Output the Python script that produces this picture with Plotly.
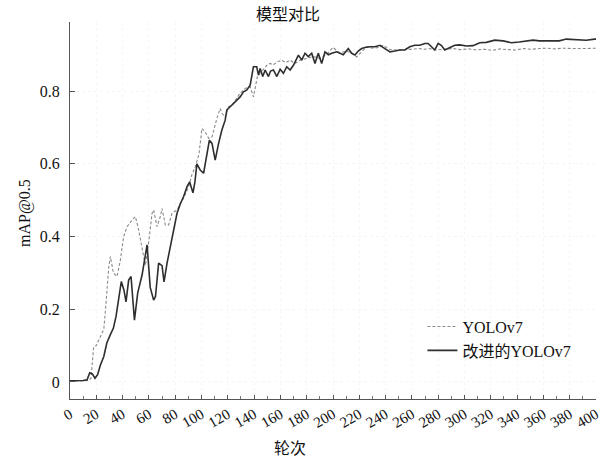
import plotly.graph_objects as go

# ---- data ----
epochs_v7 = [0, 5, 10, 14, 16, 17, 18, 20, 21.9, 24.4, 25.7, 27, 28.2, 29.5, 30.7, 32, 33, 35.8, 38.3,
             40.8, 43.4, 47.2, 49.7, 52.2, 54.8, 57.3, 59.8, 62.4, 63.6, 66.2, 68.7, 70, 72.5, 75, 77.6,
             81.4, 83.9, 86.4, 90.2, 92.7, 95.3, 98, 99.5, 100.3, 102.8, 105.4, 108, 110.4, 111.7, 114.2,
             115.5, 118, 120.5, 123.1, 125.6, 129.4, 133.2, 137, 139.5, 140.8, 142.5, 144.6, 149.7, 152.2,
             154.7, 157.3, 161, 164, 167.4, 171, 175, 180, 185, 190, 195, 200, 205, 210, 214, 218, 222,
             225.6, 230, 235, 238, 243, 248, 254.6, 260, 265, 270, 273.6, 278.7, 284, 291, 297, 303, 309,
             315, 321, 327, 333, 339, 345, 351, 357, 363, 369, 375, 381, 387, 393, 400]
map_v7 = [0.002, 0.002, 0.003, 0.004, 0.01, 0.06, 0.097, 0.1, 0.115, 0.13, 0.145, 0.198, 0.27, 0.317, 0.345,
          0.32, 0.3, 0.29, 0.335, 0.4, 0.427, 0.445, 0.455, 0.418, 0.363, 0.32, 0.382, 0.464, 0.473, 0.427,
          0.455, 0.477, 0.432, 0.432, 0.464, 0.473, 0.49, 0.505, 0.537, 0.57, 0.592, 0.625, 0.67, 0.697,
          0.688, 0.67, 0.674, 0.711, 0.725, 0.752, 0.739, 0.729, 0.757, 0.761, 0.775, 0.794, 0.807, 0.812,
          0.784, 0.812, 0.84, 0.849, 0.871, 0.876, 0.872, 0.88, 0.885, 0.878, 0.885, 0.876, 0.885, 0.89,
          0.895, 0.89, 0.9, 0.92, 0.905, 0.91, 0.905, 0.894, 0.91, 0.922, 0.918, 0.92, 0.926, 0.915, 0.913,
          0.913, 0.915, 0.917, 0.915, 0.917, 0.913, 0.915, 0.917, 0.914, 0.916, 0.913, 0.915, 0.912, 0.916,
          0.914, 0.913, 0.917, 0.915, 0.917, 0.918, 0.916, 0.918, 0.917, 0.918, 0.917, 0.918]

epochs_imp = [0, 5, 10, 13, 15, 17, 19, 21, 23, 25.7, 28, 30.7, 33, 35, 37, 39, 41, 42.6, 44.6, 46.4, 49,
              51.5, 54.8, 57, 58.6, 61, 63.6, 65, 67.4, 70, 71.5, 73.8, 76.3, 78.8, 81.4, 83.9, 86.4, 89,
              91, 93.5, 95, 96.5, 99, 101.6, 104, 106, 108, 110.4, 113, 115.5, 118, 119.3, 121.8, 124.3,
              126.9, 129.4, 131.9, 134.5, 137, 138.3, 139.5, 142, 143.3, 144.6, 146.6, 148.4, 150.9, 152.5,
              154.7, 157.3, 159.8, 162.3, 164.8, 167.4, 169.9, 173.7, 176.2, 178.7, 181.2, 183.8, 186.3,
              188.8, 191.4, 193.9, 196.5, 199, 202.8, 205.3, 207.8, 211.6, 214.2, 216.7, 219.2, 221.8, 224.3,
              228, 231.8, 235.7, 239.5, 243.3, 247, 250.8, 254.6, 258.4, 262.2, 266, 269.8, 272.3, 274.9,
              277.4, 280, 282.5, 285, 288.8, 292.6, 296.4, 301.5, 306.5, 311.6, 316.6, 323, 329.3, 335.6,
              341.6, 347, 352, 357, 362, 367.2, 372, 377.4, 382.5, 387.5, 392.6, 398.9, 400]
map_imp = [0.003, 0.003, 0.004, 0.006, 0.025, 0.022, 0.01, 0.02, 0.045, 0.07, 0.107, 0.13, 0.148, 0.18,
           0.225, 0.276, 0.253, 0.22, 0.28, 0.29, 0.17, 0.245, 0.294, 0.34, 0.377, 0.26, 0.225, 0.235, 0.327,
           0.32, 0.275, 0.327, 0.372, 0.41, 0.464, 0.49, 0.51, 0.537, 0.55, 0.52, 0.55, 0.6, 0.583, 0.574,
           0.62, 0.665, 0.656, 0.61, 0.656, 0.693, 0.72, 0.748, 0.757, 0.766, 0.775, 0.784, 0.798, 0.803,
           0.816, 0.849, 0.867, 0.867, 0.844, 0.862, 0.84, 0.858, 0.84, 0.855, 0.858, 0.84, 0.86, 0.849,
           0.867, 0.858, 0.871, 0.899, 0.885, 0.904, 0.895, 0.904, 0.876, 0.904, 0.876, 0.908, 0.9, 0.904,
           0.908, 0.904, 0.9, 0.917, 0.904, 0.899, 0.91, 0.917, 0.92, 0.922, 0.922, 0.926, 0.917, 0.908,
           0.91, 0.913, 0.913, 0.922, 0.926, 0.926, 0.931, 0.931, 0.922, 0.913, 0.931, 0.925, 0.913, 0.92,
           0.926, 0.927, 0.924, 0.925, 0.933, 0.934, 0.94, 0.938, 0.933, 0.935, 0.937, 0.94, 0.938, 0.938,
           0.936, 0.938, 0.943, 0.942, 0.94, 0.94, 0.943, 0.943]

series_names = ["YOLOv7", "改进的YOLOv7"]
x_ticks = list(range(0, 401, 20))
y_ticks = [0, 0.2, 0.4, 0.6, 0.8]
y_tick_text = ["0", "0.2", "0.4", "0.6", "0.8"]
title_text = "模型对比"
x_title = "轮次"
y_title = "mAP@0.5"

SERIF = "Liberation Serif, Noto Sans CJK SC, serif"
CJK = "Noto Sans CJK SC, sans-serif"

fig = go.Figure()
fig.add_trace(go.Scatter(x=epochs_v7, y=map_v7, mode="lines", name=series_names[0],
                         line=dict(color="#8a8a8a", width=1.1, dash="3px,2px")))
fig.add_trace(go.Scatter(x=epochs_imp, y=map_imp, mode="lines", name=series_names[1],
                         line=dict(color="#2e2e2e", width=1.6)))

fig.update_layout(
    width=610, height=460,
    margin=dict(l=70, r=14, t=22, b=61, autoexpand=False),
    paper_bgcolor="white", plot_bgcolor="white",
    showlegend=True,
    legend=dict(x=0.670, y=0.237, xanchor="left", yanchor="top", bgcolor="rgba(0,0,0,0)",
                font=dict(family=SERIF, size=16, color="#111"), tracegroupgap=0,
                itemwidth=30),
    title=dict(text=title_text, x=0.472, xref="container", y=1 - 14 / 460, yref="container",
               xanchor="center", yanchor="middle",
               font=dict(family=CJK, size=16, color="#111")),
)
fig.update_xaxes(range=[0, 400], tickvals=x_ticks, ticks="inside", ticklen=4, tickcolor="#555",
                 tickangle=-30, showline=True, linecolor="#555", linewidth=1, zeroline=False,
                 automargin=False,
                 showgrid=True, gridcolor="rgba(0,0,0,0.035)", griddash="dot",
                 minor=dict(dtick=10, ticks="inside", ticklen=3, tickcolor="#777", showgrid=False),
                 tickfont=dict(family=SERIF, size=15, color="#111"))
fig.update_yaxes(range=[-0.047, 0.99], tickvals=y_ticks, ticktext=y_tick_text, ticks="inside",
                 ticklen=5, tickcolor="#555", showline=True, linecolor="#555", linewidth=1,
                 zeroline=False, automargin=False,
                 showgrid=True, gridcolor="rgba(0,0,0,0.035)", griddash="dot",
                 ticklabelstandoff=6,
                 tickfont=dict(family=SERIF, size=16, color="#111"))

fig.add_annotation(text=x_title, xref="paper", yref="paper", x=(290 - 70) / 526, y=(399 - 447) / 377,
                   showarrow=False, xanchor="center", yanchor="middle",
                   font=dict(family=CJK, size=16, color="#111"))
fig.add_annotation(text=y_title, xref="paper", yref="paper", x=(25 - 70) / 526, y=(399 - 213) / 377,
                   showarrow=False, xanchor="center", yanchor="middle", textangle=-90,
                   font=dict(family=SERIF, size=16, color="#111"))

fig.write_html("out.html", config={"displayModeBar": False},
               post_script="document.body.style.margin='0';")
